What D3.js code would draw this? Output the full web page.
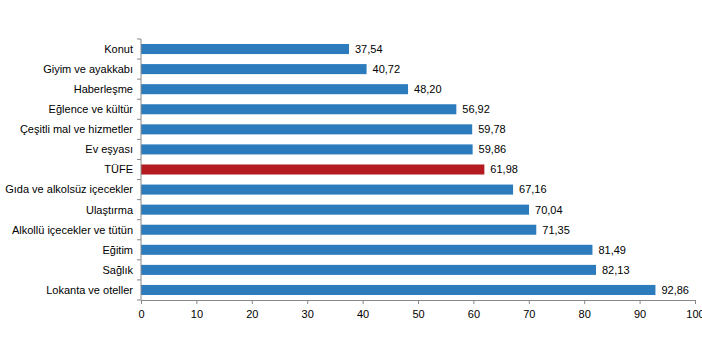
<!DOCTYPE html>
<html>
<head>
<meta charset="utf-8">
<script src="https://cdn.jsdelivr.net/npm/d3@7"></script>
<style>
  html, body { margin: 0; padding: 0; background: #fff; }
  svg text { font-family: "Liberation Sans", Arial, sans-serif; }
</style>
</head>
<body>
<div id="chart"></div>
<script>
// Categories, values and tick labels
const categories = [
  "Konut", "Giyim ve ayakkabı", "Haberleşme", "Eğlence ve kültür",
  "Çeşitli mal ve hizmetler", "Ev eşyası", "TÜFE",
  "Gıda ve alkolsüz içecekler", "Ulaştırma", "Alkollü içecekler ve tütün",
  "Eğitim", "Sağlık", "Lokanta ve oteller"
];
const values = [37.54, 40.72, 48.20, 56.92, 59.78, 59.86, 61.98, 67.16, 70.04, 71.35, 81.49, 82.13, 92.86];
const highlight = "TÜFE";
const xTicks = [0, 10, 20, 30, 40, 50, 60, 70, 80, 90, 100];

const data = categories.map((c, i) => ({ name: c, value: values[i] }));

const width = 702;
const height = 351;
const marginTop = 39;
const marginRight = 7;
const marginBottom = 51;
const marginLeft = 141;

const x = d3.scaleLinear()
  .domain([0, 100])
  .range([marginLeft, width - marginRight]);

const y = d3.scaleBand()
  .domain(categories)
  .range([marginTop, height - marginBottom])
  .paddingInner(0.5)
  .paddingOuter(0.25);

const svg = d3.create("svg")
  .attr("width", width)
  .attr("height", height)
  .attr("viewBox", [0, 0, width, height]);

d3.select("#chart").append(() => svg.node());

// Bars
svg.append("g")
  .selectAll()
  .data(data)
  .join("rect")
  .attr("x", x(0))
  .attr("y", d => y(d.name))
  .attr("width", d => x(d.value) - x(0))
  .attr("height", y.bandwidth())
  .attr("fill", d => d.name === highlight ? "#b31b20" : "#2c7bbd");

// Value labels
svg.append("g")
  .selectAll()
  .data(data)
  .join("text")
  .attr("x", d => x(d.value) + 6)
  .attr("y", d => y(d.name) + y.bandwidth() / 2)
  .attr("dy", "0.35em")
  .attr("font-size", 11)
  .attr("fill", "#000")
  .text(d => d.value.toFixed(2).replace(".", ","));

// X axis
svg.append("g")
  .attr("transform", `translate(0,${height - marginBottom})`)
  .call(d3.axisBottom(x).tickValues(xTicks).tickSize(4).tickSizeOuter(4).tickPadding(6))
  .call(g => g.select(".domain").attr("stroke", "#888"))
  .call(g => g.selectAll(".tick line").attr("stroke", "#888"))
  .call(g => g.selectAll(".tick text").attr("font-size", 11).attr("fill", "#000")
    .style("font-family", "'Liberation Sans', Arial, sans-serif"));

// Y axis: line with ticks at category boundaries, labels centered on bars
const step = y.step();
const boundaries = d3.range(categories.length + 1).map(i => marginTop + i * step);
const yAxis = svg.append("g");
yAxis.append("line")
  .attr("x1", marginLeft).attr("x2", marginLeft)
  .attr("y1", marginTop).attr("y2", height - marginBottom)
  .attr("stroke", "#888");
yAxis.selectAll(".bt")
  .data(boundaries)
  .join("line")
  .attr("x1", marginLeft - 4).attr("x2", marginLeft)
  .attr("y1", d => d).attr("y2", d => d)
  .attr("stroke", "#888");
yAxis.selectAll("text")
  .data(categories)
  .join("text")
  .attr("x", marginLeft - 8)
  .attr("y", d => y(d) + y.bandwidth() / 2)
  .attr("dy", "0.35em")
  .attr("text-anchor", "end")
  .attr("font-size", 11)
  .attr("fill", "#000")
  .text(d => d);
</script>
</body>
</html>
